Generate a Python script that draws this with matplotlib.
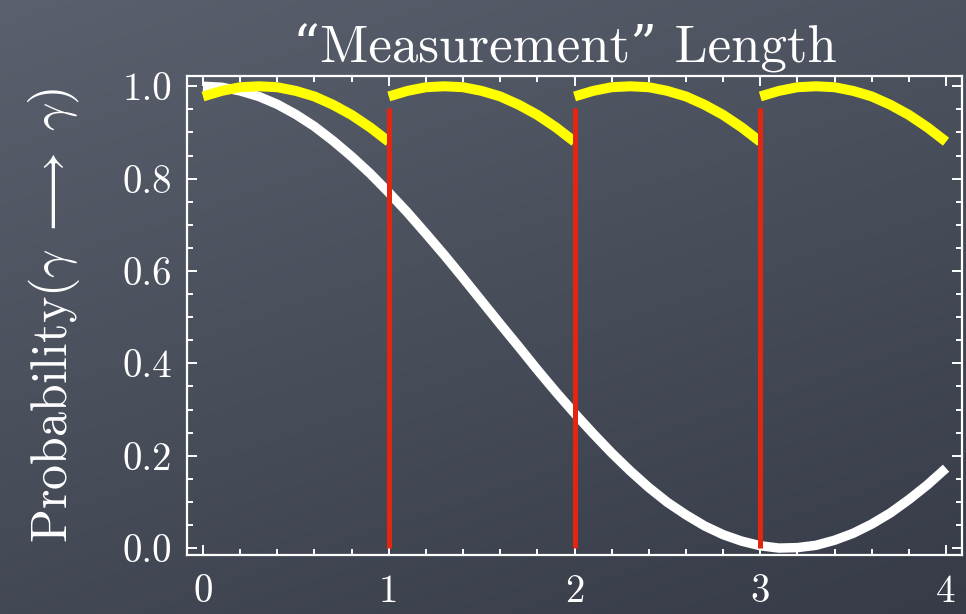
import numpy as np
import matplotlib
matplotlib.use("Agg")
import matplotlib.pyplot as plt
from matplotlib.ticker import FixedLocator, FixedFormatter, MultipleLocator

plt.rcParams['mathtext.fontset'] = 'cm'
plt.rcParams['font.family'] = ['cmr10', 'DejaVu Serif']
plt.rcParams['axes.unicode_minus'] = False

# ---- data ----
x_white = [0.0, 0.1, 0.2, 0.3, 0.4, 0.5, 0.6, 0.7, 0.8, 0.9,
           1.0, 1.1, 1.2, 1.3, 1.4, 1.5, 1.6, 1.7, 1.8, 1.9,
           2.0, 2.1, 2.2, 2.3, 2.4, 2.5, 2.6, 2.7, 2.8, 2.9,
           3.0, 3.1, 3.2, 3.3, 3.4, 3.5, 3.6, 3.7, 3.8, 3.9, 4.0]
y_white = [1.000, 0.998, 0.990, 0.978, 0.961, 0.939, 0.913, 0.882, 0.848, 0.811,
           0.770, 0.727, 0.681, 0.634, 0.585, 0.535, 0.485, 0.436, 0.386, 0.338,
           0.292, 0.248, 0.206, 0.167, 0.131, 0.099, 0.072, 0.048, 0.029, 0.015,
           0.005, 0.000, 0.001, 0.006, 0.017, 0.032, 0.052, 0.076, 0.105, 0.137, 0.173]

seg_starts = [0, 1, 2, 3]
seg_dx = [0.0, 0.1, 0.2, 0.3, 0.4, 0.5, 0.6, 0.7, 0.8, 0.9, 1.0]
seg_y = [0.978, 0.990, 0.998, 1.000, 0.998, 0.990, 0.978, 0.960, 0.938, 0.911, 0.880]

measure_x = [1, 2, 3]
measure_top = 0.952

x_ticks = [0, 1, 2, 3, 4]
x_ticklabels = ['0', '1', '2', '3', '4']
y_ticks = [0.0, 0.2, 0.4, 0.6, 0.8, 1.0]
y_ticklabels = ['0.0', '0.2', '0.4', '0.6', '0.8', '1.0']

title = "\u201cMeasurement\u201d Length"
ylabel = r"Probability$(\gamma\;\longrightarrow\;\gamma)$"

# ---- figure ----
fig = plt.figure(figsize=(9.66, 6.14), dpi=100)

# slate background gradient
bg = fig.add_axes([0, 0, 1, 1], zorder=-10)
gy, gx = np.mgrid[0:1:200j, 0:1:300j]
t = 0.65 * gy + 0.35 * gx
top = np.array([0x5a, 0x60, 0x6d]) / 255.0
bot = np.array([0x36, 0x3b, 0x47]) / 255.0
img = top[None, None, :] * (1 - t[..., None]) + bot[None, None, :] * t[..., None]
bg.imshow(img, aspect='auto', extent=[0, 1, 0, 1], interpolation='bilinear')
bg.set_axis_off()

ax = fig.add_axes([0.1936, 0.0961, 0.8023, 0.7799])
ax.set_facecolor('none')

ax.plot(x_white, y_white, color='white', lw=6.8, solid_capstyle='butt', zorder=3)
for s in seg_starts:
    ax.plot([s + d for d in seg_dx], seg_y, color='#ffff00', lw=7.2,
            solid_capstyle='butt', zorder=4)
ax.vlines(measure_x, 0, measure_top, colors='#e3260f', lw=3.6, zorder=5)

ax.set_xlim(-0.086, 4.086)
ax.set_ylim(-0.015, 1.022)

for sp in ax.spines.values():
    sp.set_color('white')
    sp.set_linewidth(1.6)

ax.xaxis.set_major_locator(FixedLocator(x_ticks))
ax.xaxis.set_major_formatter(FixedFormatter(x_ticklabels))
ax.yaxis.set_major_locator(FixedLocator(y_ticks))
ax.yaxis.set_major_formatter(FixedFormatter(y_ticklabels))
ax.xaxis.set_minor_locator(MultipleLocator(0.2))
ax.yaxis.set_minor_locator(MultipleLocator(0.05))

ax.tick_params(which='both', direction='in', top=True, right=True,
               color='white', width=1.4)
ax.tick_params(which='major', length=7, labelsize=28, labelcolor='white')
ax.tick_params(axis='x', which='major', pad=14)
ax.tick_params(axis='y', which='major', pad=11)
ax.tick_params(which='minor', length=4)

ax.set_title(title, color='white', fontsize=38, pad=10, x=0.487)
ax.set_ylabel(ylabel, color='white', fontsize=36)
ax.yaxis.set_label_coords(-0.135, 0.5)

fig.savefig('out.png', dpi=100)
